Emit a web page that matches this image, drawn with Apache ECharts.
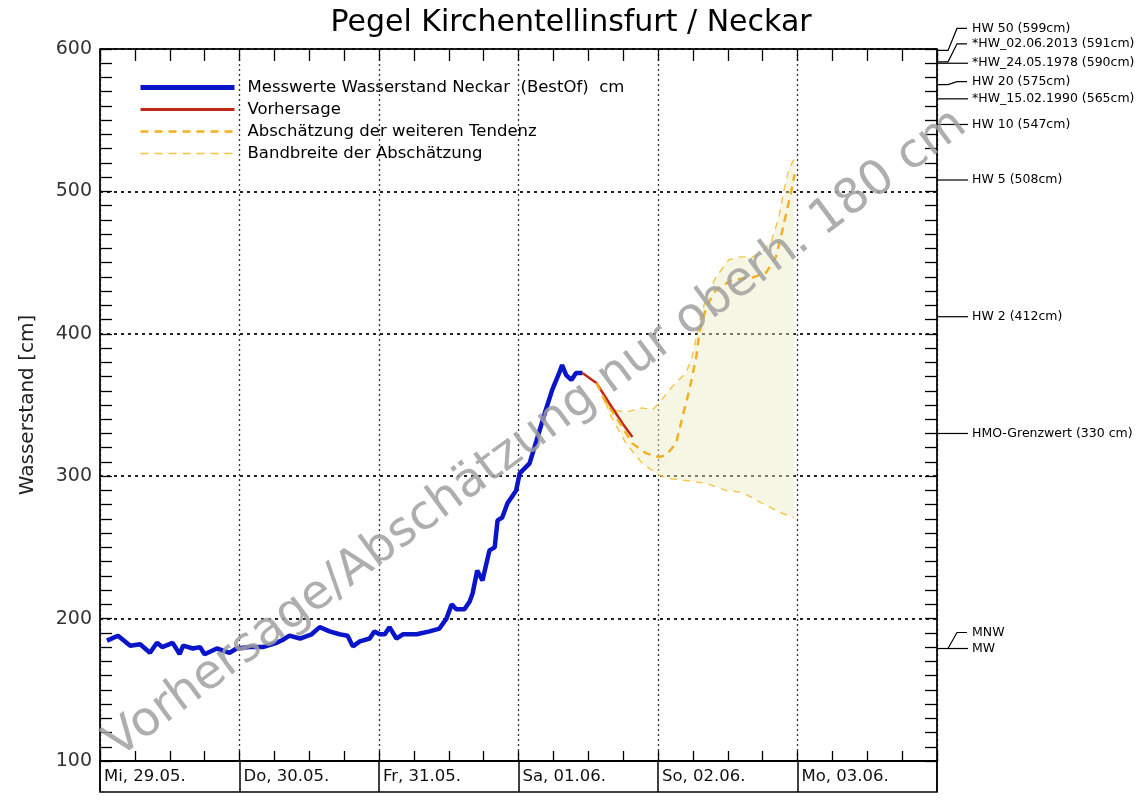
<!DOCTYPE html>
<html><head><meta charset="utf-8">
<script src="https://cdn.jsdelivr.net/npm/echarts@6/dist/echarts.min.js"></script>
<style>html,body{margin:0;padding:0;background:#fff}#c{width:1142px;height:800px}</style>
</head><body><div id="c"></div>
<script>
// hours since Mi 29.05. 00:00
const dayLabels = ['Mi, 29.05.', 'Do, 30.05.', 'Fr, 31.05.', 'Sa, 01.06.', 'So, 02.06.', 'Mo, 03.06.'];
const yTicks = [100, 200, 300, 400, 500, 600];
const measured = [[1.2,184.5],[3.1,188],[5.2,181],[6.9,182],[8.6,176],[9.8,183],[10.7,180],[12.5,183],[13.7,175],[14.3,181],[16.0,179],[17.2,180],[18.0,175],[20.1,179],[22.3,176],[23.5,179],[25.8,180],[28.0,180],[30.4,183],[31.4,185],[32.6,188],[34.4,186],[36.4,189],[37.8,194],[39.5,191],[41.2,189],[42.6,188],[43.5,180.5],[44.7,184],[46.4,186],[47.2,191],[48.1,189],[49.0,189],[49.8,194],[51.0,186],[52.1,189],[54.5,189],[56.7,191],[58.4,193],[59.6,200],[60.5,210],[61.3,206.6],[62.7,206.6],[63.6,212],[64.1,217.6],[64.9,233.8],[65.8,226.8],[67.0,247.9],[67.9,250],[68.4,269],[69.2,271],[70.1,281],[71.6,290],[72.2,302],[73.9,309],[75.1,325],[76.5,344],[77.8,360.6],[79.0,372.5],[79.5,378],[80.2,371],[81.1,367.6],[81.9,372.5],[83.0,372.5]];
const forecast = [[83.0,372.5],[85.4,365.5],[87.6,351.4],[89.9,337],[91.6,327.5]];
const tendency = [[85.4,365.5],[87.0,352],[88.8,341.5],[91.6,323],[94.0,316],[96.2,313.4],[97.4,314.8],[99.1,323],[100.2,341.5],[101.4,360.6],[102.6,384],[103.1,400.7],[104.3,419],[106.0,431],[108.8,438],[112.2,439.4],[114.6,443],[116.3,454],[117.3,471],[118.2,487],[119.1,503.5],[119.5,512]];
const bandUpper = [[87.0,352],[88.1,346.5],[90.5,345],[93.3,348],[95.0,346.5],[96.2,351.4],[98.4,362.7],[100.8,372.5],[101.9,384],[103.1,407.7],[104.3,426],[106.0,440],[108.2,452],[110.0,454],[112.2,454],[113.9,457],[115.6,466],[116.8,482],[117.7,501.4],[118.5,515.5],[119.4,522.5]];
const bandLower = [[87.0,352],[87.6,344.4],[90.5,323],[93.3,309],[95.7,302],[97.4,298.6],[100.8,297],[104.3,295],[107.7,290],[110.5,288.7],[113.9,281],[117.3,274],[119.4,271]];
const refLabels = ['HW 50 (599cm)','*HW_02.06.2013 (591cm)','*HW_24.05.1978 (590cm)','HW 20 (575cm)','*HW_15.02.1990 (565cm)','HW 10 (547cm)','HW 5 (508cm)','HW 2 (412cm)','HMO-Grenzwert (330 cm)','MNW','MW'];
const refValues = [599, 591, 590, 575, 565, 547, 508, 412, 330, 179, 179];
const refLabelShift = [-22, -18, 0, -3, 0, 0, 0, 0, 0, -16, 0]; // pixel layout offsets for label leaders

const FONT = 'DejaVu Sans';
const chart = echarts.init(document.getElementById('c'), null, {renderer: 'canvas'});

const xCommon = {type: 'value', min: 0, max: 144, interval: 24};
const hdot = {show: true, lineStyle: {color: '#222', width: 2, type: [3, 4]}};
const vdot = {show: true, lineStyle: {color: '#333', width: 1.3, type: [2, 3]}};
const axLine = {show: true, onZero: false, lineStyle: {color: '#000', width: 1.5}};
const tickStyle = {color: '#000', width: 1.3};

const C_BLUE = '#0a14c8', C_RED = '#c0281a', C_TEND = '#f2b022', C_BAND = '#f6c445';

chart.setOption({
  animation: false,
  backgroundColor: '#fff',
  textStyle: {fontFamily: FONT},
  title: {text: 'Pegel Kirchentellinsfurt / Neckar', left: 'center', top: 3,
    textStyle: {fontFamily: FONT, fontSize: 30, fontWeight: 'normal', color: '#000'}},
  legend: {
    orient: 'vertical', left: 138, top: 79, padding: 0, itemWidth: 94, itemHeight: 14, itemGap: 5,
    itemStyle: {opacity: 0},
    data: [
      {name: 'Messwerte Wasserstand Neckar  (BestOf)  cm', lineStyle: {width: 5, color: C_BLUE}},
      {name: 'Vorhersage', lineStyle: {width: 3, color: C_RED}},
      {name: 'Abschätzung der weiteren Tendenz', lineStyle: {width: 2.5, color: C_TEND, type: [8, 6]}},
      {name: 'Bandbreite der Abschätzung', lineStyle: {width: 1.5, color: C_BAND, type: [8, 6]}}
    ],
    textStyle: {fontFamily: FONT, fontSize: 16.5, color: '#000', padding: [0, 0, 0, 8]}
  },
  grid: [
    {left: 100, right: 205, top: 49, bottom: 39, show: true, borderColor: '#000', borderWidth: 1, backgroundColor: 'transparent'},
    {left: 100, right: 205, top: 761, height: 31, show: true, borderColor: '#000', borderWidth: 1.5}
  ],
  xAxis: [
    Object.assign({}, xCommon, {gridIndex: 0, position: 'bottom', axisLine: axLine,
      axisTick: {show: true, inside: true, length: 10, lineStyle: tickStyle},
      minorTick: {show: true, splitNumber: 4, length: 10, lineStyle: tickStyle},
      axisLabel: {show: false}, splitLine: vdot}),
    Object.assign({}, xCommon, {gridIndex: 0, position: 'top', axisLine: axLine,
      axisTick: {show: true, inside: true, length: 12, lineStyle: tickStyle},
      minorTick: {show: true, splitNumber: 4, length: 12, lineStyle: tickStyle},
      axisLabel: {show: false}, splitLine: {show: false}}),
    Object.assign({}, xCommon, {gridIndex: 1, position: 'top', axisLine: axLine,
      axisTick: {show: false},
      splitLine: {show: true, lineStyle: {color: '#000', width: 1.5, type: 'solid'}},
      axisLabel: {show: true, inside: true, margin: 7, align: 'left', verticalAlign: 'top',
        showMaxLabel: false, fontFamily: FONT, fontSize: 16.5, color: '#111', padding: [0, 0, 0, 4],
        formatter: v => dayLabels[Math.round(v / 24)] || ''}})
  ],
  yAxis: [
    {type: 'value', gridIndex: 0, min: 100, max: 600, interval: 100, position: 'left',
      name: 'Wasserstand [cm]', nameLocation: 'middle', nameGap: 62,
      nameTextStyle: {fontFamily: FONT, fontSize: 20, color: '#222'},
      axisLine: axLine,
      axisTick: {show: true, inside: true, length: 12, lineStyle: tickStyle},
      minorTick: {show: true, splitNumber: 10, length: 12, lineStyle: tickStyle},
      axisLabel: {fontFamily: FONT, fontSize: 19, color: '#333', margin: 8,
        formatter: v => yTicks.indexOf(v) >= 0 ? String(v) : ''},
      splitLine: hdot},
    {type: 'value', gridIndex: 0, min: 100, max: 600, interval: 100, position: 'right',
      axisLine: axLine,
      axisTick: {show: true, inside: true, length: 12, lineStyle: tickStyle},
      minorTick: {show: true, splitNumber: 10, length: 12, lineStyle: tickStyle},
      axisLabel: {show: false}, splitLine: {show: false}},
    {type: 'value', gridIndex: 1, min: 0, max: 1, show: false}
  ],
  series: [
    {type: 'custom', name: 'fill', xAxisIndex: 0, yAxisIndex: 0, silent: true, z: 1,
      data: [bandUpper[0]],
      renderItem: (params, api) => {
        const pts = bandUpper.concat(bandLower.slice().reverse()).map(p => api.coord(p));
        return {type: 'polygon', shape: {points: pts}, style: {fill: 'rgba(236,236,196,0.45)'}};
      }},
    {type: 'line', name: 'Bandbreite der Abschätzung', data: bandUpper, symbol: 'none', z: 3,
      lineStyle: {color: C_BAND, width: 1.4, type: [7, 6]}, itemStyle: {color: C_BAND}},
    {type: 'line', name: 'Bandbreite der Abschätzung', data: bandLower, symbol: 'none', z: 3,
      lineStyle: {color: C_BAND, width: 1.4, type: [7, 6]}, itemStyle: {color: C_BAND}},
    {type: 'line', name: 'Messwerte Wasserstand Neckar  (BestOf)  cm', data: measured, symbol: 'none', z: 4,
      lineStyle: {color: C_BLUE, width: 4.5}, itemStyle: {color: C_BLUE}},
    {type: 'line', name: 'Vorhersage', data: forecast, symbol: 'none', z: 5,
      lineStyle: {color: C_RED, width: 2.5}, itemStyle: {color: C_RED}},
    {type: 'line', name: 'Abschätzung der weiteren Tendenz', data: tendency, symbol: 'none', z: 6,
      lineStyle: {color: C_TEND, width: 2.5, type: [8, 6]}, itemStyle: {color: C_TEND}},
    {type: 'custom', name: 'refs', xAxisIndex: 0, yAxisIndex: 0, silent: true, clip: false, z: 7,
      data: refValues.map((v, i) => [144, v, refLabelShift[i]]),
      renderItem: (params, api) => {
        const p = api.coord([api.value(0), api.value(1)]);
        const dy = api.value(2);
        const x0 = p[0], y0 = p[1];
        const pts = dy === 0 ? [[x0, y0], [x0 + 31, y0]]
          : [[x0, y0], [x0 + 11, y0], [x0 + 20, y0 + dy], [x0 + 30, y0 + dy]];
        return {type: 'group', children: [
          {type: 'polyline', shape: {points: pts}, style: {stroke: '#000', lineWidth: 1.2, fill: null}},
          {type: 'text', x: x0 + 35, y: y0 + dy, style: {text: refLabels[params.dataIndex],
            fontFamily: FONT, fontSize: 12.5, fill: '#000', verticalAlign: 'middle', align: 'left'}}
        ]};
      }}
  ],
  graphic: [
    {type: 'text', x: 536, y: 434, rotation: 0.637, z: 100, silent: true,
      style: {text: 'Vorhersage/Abschätzung nur oberh. 180 cm', fontFamily: FONT, fontSize: 48,
        fill: 'rgba(160,160,160,0.85)', align: 'center', verticalAlign: 'middle'}}
  ]
});
</script></body></html>
